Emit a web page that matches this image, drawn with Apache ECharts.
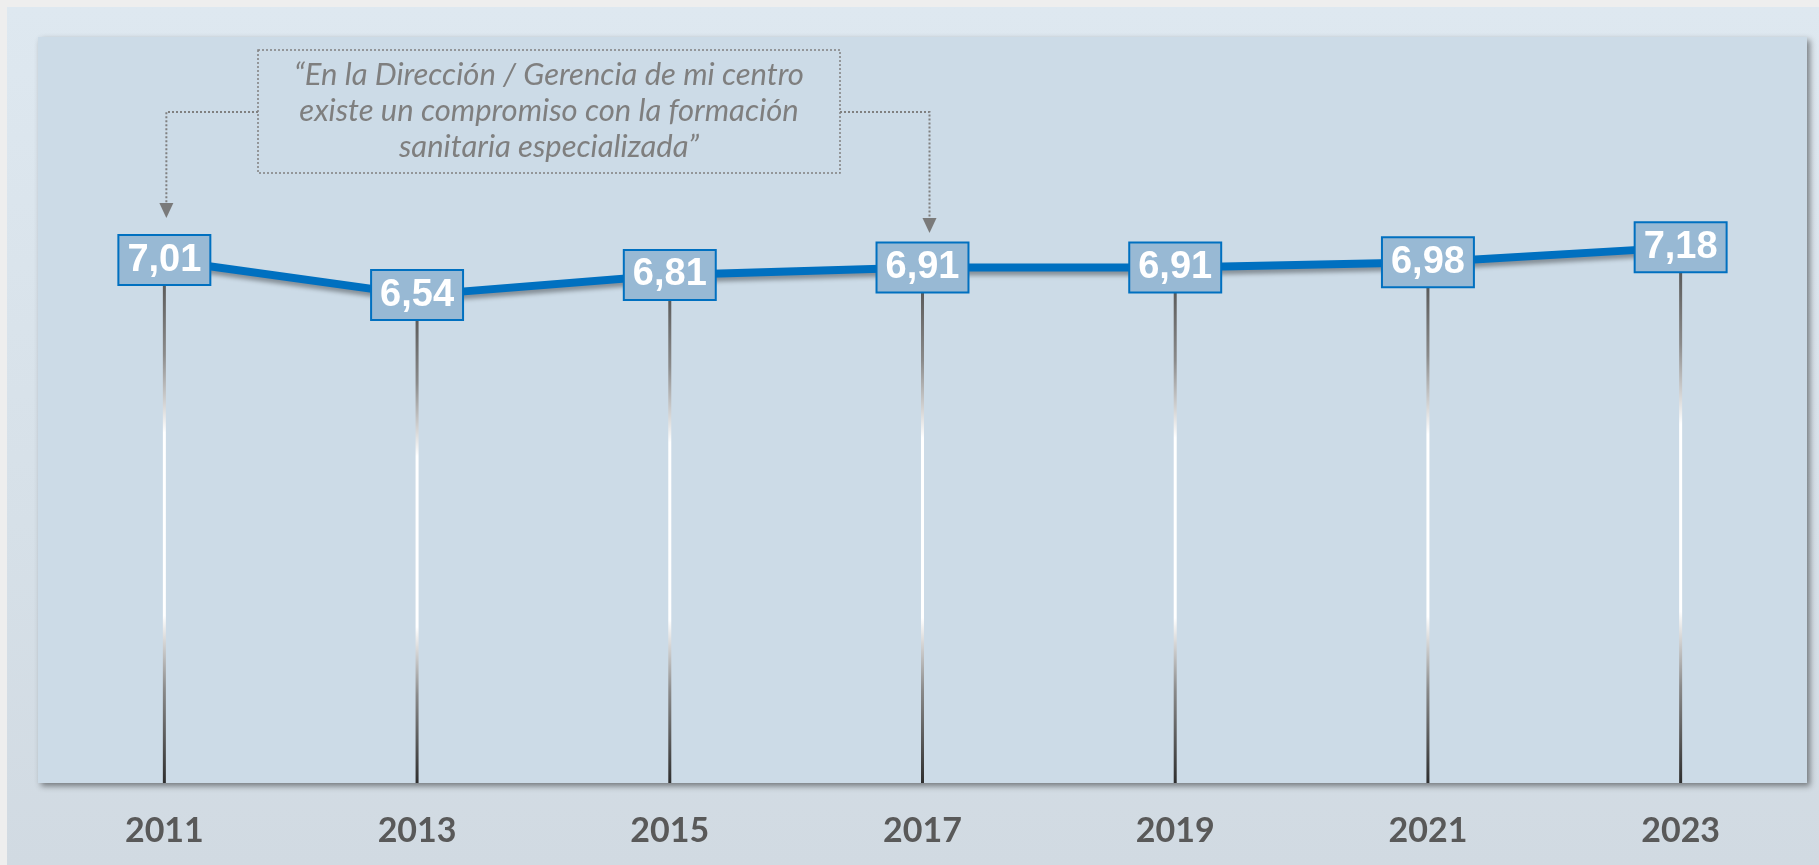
<!DOCTYPE html>
<html>
<head>
<meta charset="utf-8">
<script src="https://cdn.jsdelivr.net/npm/echarts@6/dist/echarts.min.js"></script>
<style>
  html, body { margin: 0; padding: 0; background: #eeeeee; overflow: hidden; }
  #main {
    position: absolute; left: 7px; top: 7px; width: 1812px; height: 858px;
    background: linear-gradient(180deg, #dee8f0 0%, #d6e0e8 60%, #d1dae2 100%);
  }
</style>
</head>
<body>
<div id="main"></div>
<script>
// datos
const years = ['2011', '2013', '2015', '2017', '2019', '2021', '2023'];
const scores = [7.01, 6.54, 6.81, 6.91, 6.91, 6.98, 7.18];
const quoteLines = [
  '\u201cEn la Direcci\u00f3n / Gerencia de mi centro',
  'existe un compromiso con la formaci\u00f3n',
  'sanitaria especializada\u201d'
];

const myChart = echarts.init(document.getElementById('main'));

const option = {
  animation: false,
  grid: {
    show: true,
    left: 31,
    right: 12,
    top: 30,
    bottom: 82,
    backgroundColor: '#ccdbe7',
    borderWidth: 0,
    shadowColor: 'rgba(0,0,0,0.45)',
    shadowBlur: 6,
    shadowOffsetX: 3,
    shadowOffsetY: 3
  },
  xAxis: {
    type: 'category',
    data: years,
    axisLine: { show: false },
    axisTick: { show: false },
    axisLabel: {
      margin: 31,
      color: '#595959',
      fontFamily: 'Lato',
      fontWeight: 'bold',
      fontSize: 34,
      lineHeight: 34
    }
  },
  yAxis: {
    type: 'value',
    min: 0,
    max: 10,
    show: false,
    splitLine: { show: false }
  },
  series: [{
    // lineas verticales
    type: 'bar',
    data: scores,
    barWidth: 3,
    z: 1,
    silent: true,
    itemStyle: {
      color: new echarts.graphic.LinearGradient(0, 0, 0, 1, [
        { offset: 0, color: '#4a4a4a' },
        { offset: 0.18, color: '#8a8a8a' },
        { offset: 0.33, color: '#ffffff' },
        { offset: 0.68, color: '#ffffff' },
        { offset: 0.82, color: '#8a8a8a' },
        { offset: 1, color: '#2e2e2e' }
      ])
    }
  }, {
    type: 'line',
    data: scores,
    z: 3,
    symbol: 'circle',
    symbolSize: 2,
    lineStyle: {
      color: '#0070c0',
      width: 8,
      shadowColor: 'rgba(0,0,0,0.35)',
      shadowBlur: 4,
      shadowOffsetY: 4,
      shadowOffsetX: 1
    },
    itemStyle: { color: '#0070c0' },
    label: {
      show: true,
      position: 'inside',
      formatter: function (p) { return p.value.toFixed(2).replace('.', ','); },
      color: '#ffffff',
      fontFamily: 'Liberation Sans',
      fontWeight: 'bold',
      fontSize: 38,
      lineHeight: 42,
      backgroundColor: '#98b9d4',
      borderColor: '#0070c0',
      borderWidth: 2,
      padding: [4, 8, 2, 8]
    }
  }]
};

myChart.setOption(option);

// cuadro de la cita y flechas
const x1 = myChart.convertToPixel({ xAxisIndex: 0 }, '2011') + 2;
const x2 = myChart.convertToPixel({ xAxisIndex: 0 }, '2017') + 7;
const dotted = { stroke: '#808080', lineWidth: 2, lineDash: [2, 2], fill: null };

myChart.setOption({
  graphic: [{
    type: 'rect',
    shape: { x: 251, y: 43, width: 582, height: 123 },
    style: { stroke: '#808080', lineWidth: 1.5, lineDash: [2, 2], fill: null },
    z: 10
  }, {
    type: 'text',
    x: 542,
    y: 104,
    style: {
      text: quoteLines.join('\n'),
      fill: '#7f7f7f',
      font: 'italic 31px Lato',
      lineHeight: 36,
      align: 'center',
      verticalAlign: 'middle'
    },
    z: 10
  }, {
    type: 'polyline',
    shape: { points: [[251, 105], [x1, 105], [x1, 197]] },
    style: dotted,
    z: 10
  }, {
    type: 'polygon',
    shape: { points: [[x1 - 7, 196], [x1 + 7, 196], [x1, 211]] },
    style: { fill: '#7a7a7a' },
    z: 10
  }, {
    type: 'polyline',
    shape: { points: [[833, 105], [x2, 105], [x2, 212]] },
    style: dotted,
    z: 10
  }, {
    type: 'polygon',
    shape: { points: [[x2 - 7, 211], [x2 + 7, 211], [x2, 226]] },
    style: { fill: '#7a7a7a' },
    z: 10
  }]
});

window.addEventListener('resize', () => {
  myChart.resize();
});
</script>
</body>
</html>
